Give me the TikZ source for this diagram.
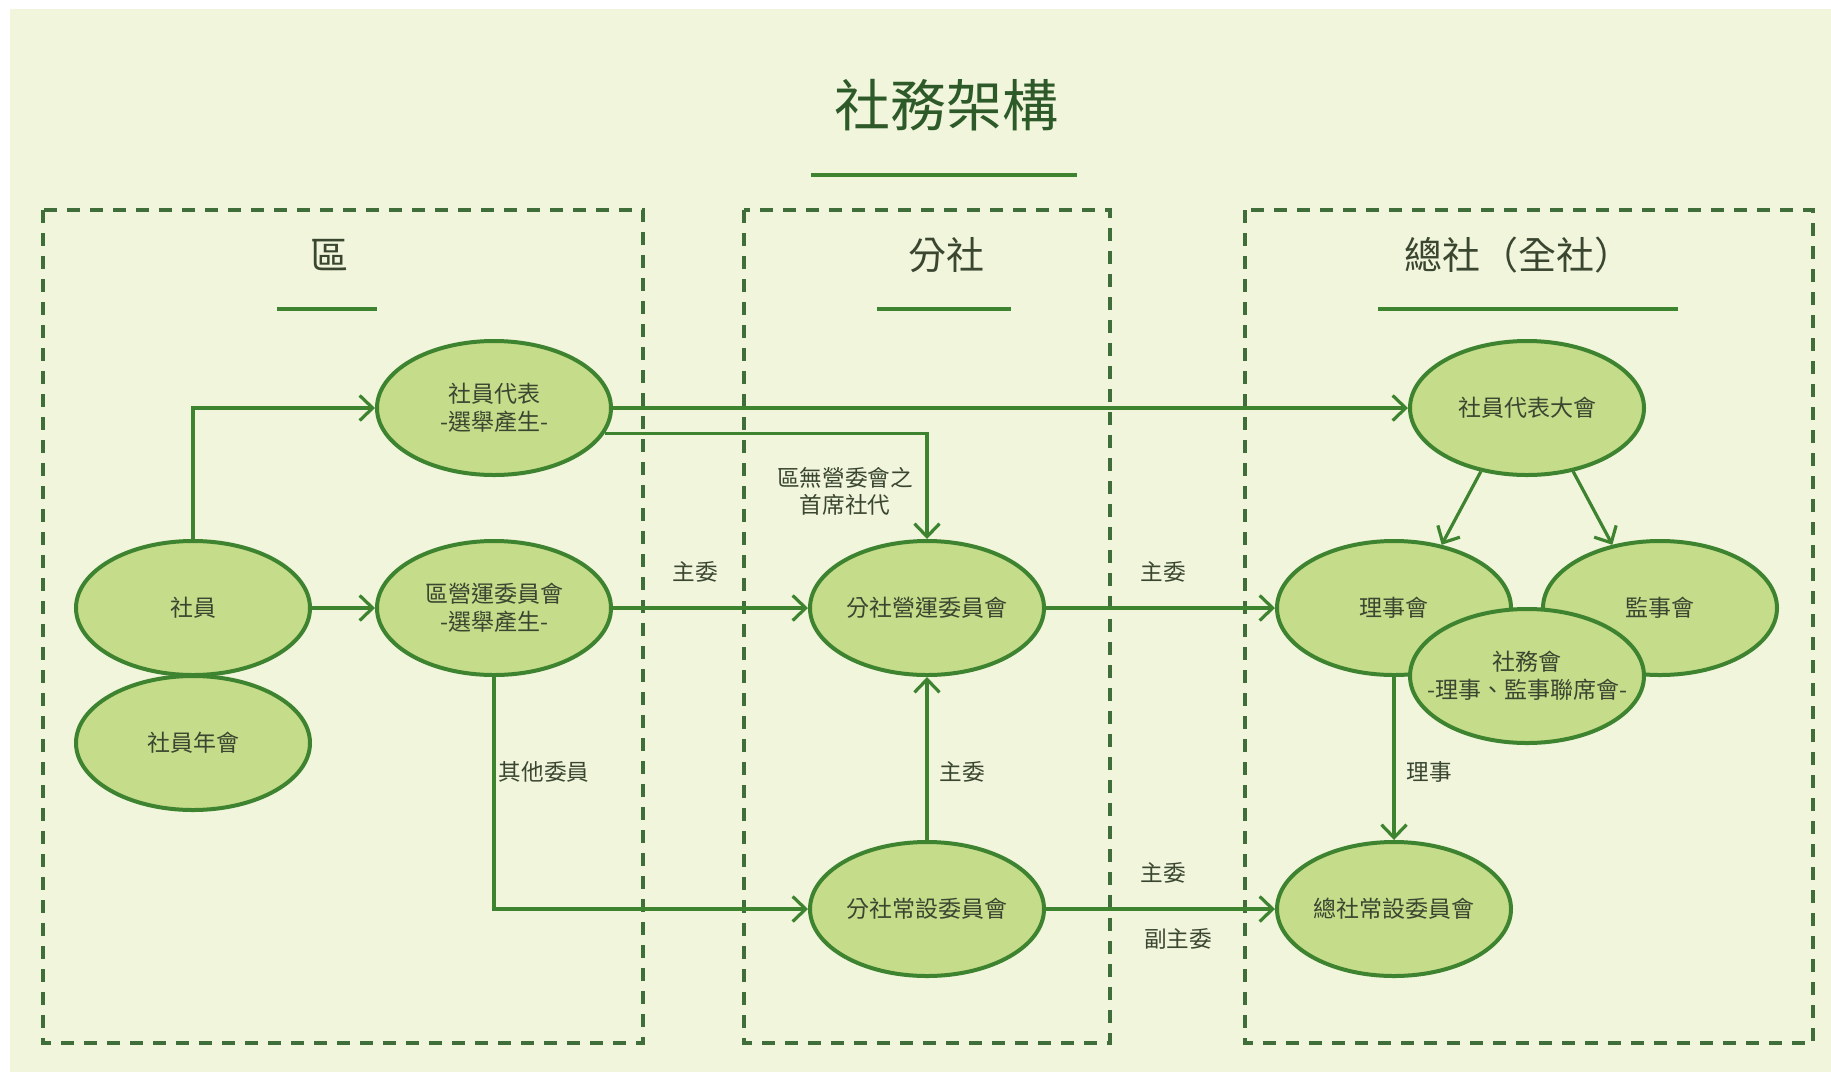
\documentclass[tikz,border=0pt]{standalone}
\usepackage{fontspec}
\newfontfamily\cjk{Noto Sans CJK TC}
\usetikzlibrary{arrows.meta,shapes.geometric}
\definecolor{bgc}{HTML}{F0F5DC}
\definecolor{fillc}{HTML}{C5DC8A}
\definecolor{edgec}{HTML}{3E832F}
\definecolor{boxc}{HTML}{3F6E3B}
\definecolor{txtc}{HTML}{3A4630}
\definecolor{titlec}{HTML}{2E5A2A}
\begin{document}
\begin{tikzpicture}[x=0.5pt,y=-0.5pt,
 org/.style={ellipse,draw=edgec,fill=fillc,line width=2pt,minimum width=117pt,minimum height=67pt,inner sep=0pt,font=\cjk\fontsize{11.5}{14}\selectfont,text=txtc,align=center},
 conn/.style={draw=edgec,line width=1.6pt,-{Straight Barb[length=6.5pt,width=12.5pt]}},
 lab/.style={font=\cjk\fontsize{11.3}{13.5}\selectfont,text=txtc,align=center,inner sep=0pt},
 region/.style={draw=boxc,line width=2pt,dash pattern=on 6.5pt off 5pt},
 head/.style={font=\cjk\fontsize{19}{22}\selectfont,text=txtc,inner sep=0pt},
 uline/.style={draw=edgec,line width=2pt}
]
\useasboundingbox (0,0) rectangle (1831,1072);
\fill[white] (0,0) rectangle (1831,1072);
\fill[bgc] (10,9) rectangle (1831,1072);

% title
\node[font=\cjk\fontsize{28}{32}\selectfont,text=titlec,inner sep=0pt] (title) at (946,105) {社務架構};
\draw[uline] (811,175) -- (1077,175);

% regions
\draw[region] (43,210) rectangle (643,1043);
\draw[region] (744,210) rectangle (1110,1043);
\draw[region] (1245,210) rectangle (1813,1043);

\node[head] (hq) at (329,255) {區};
\draw[uline] (277,309) -- (377,309);
\node[head] (hf) at (946,255) {分社};
\draw[uline] (877,309) -- (1011,309);
\node[head] (hz) at (1518,255) {總社（全社）};
\draw[uline] (1378,309) -- (1678,309);

% nodes
\node[org] (sdb) at (494,408) {社員代表\\-選舉產生-};
\node[org] (sy) at (193,608) {社員};
\node[org] (synh) at (193,743) {社員年會};
\node[org] (qy) at (494,608) {區營運委員會\\-選舉產生-};
\node[org] (fyy) at (927,608) {分社營運委員會};
\node[org] (fcs) at (927,909) {分社常設委員會};
\node[org] (dh) at (1527,408) {社員代表大會};
\node[org] (lsh) at (1394,608) {理事會};
\node[org] (jsh) at (1660,608) {監事會};
\node[org,inner xsep=-30pt] (swh) at (1527,676) {社務會\\-理事、監事聯席會-};
\node[org] (zcs) at (1394,909) {總社常設委員會};

% connectors
\draw[conn] (sy.north) |- (sdb.west);
\draw[conn] (sy.east) -- (qy.west);
\draw[conn] (sdb.east) -- (dh.west);
\draw[conn] (sdb.-13) -| (fyy.north);
\draw[conn] (qy.east) -- (fyy.west);
\draw[conn] (qy.south) |- (fcs.west);
\draw[conn] (fcs.north) -- (fyy.south);
\draw[conn] (fyy.east) -- (lsh.west);
\draw[conn] (fcs.east) -- (zcs.west);
\draw[conn] (dh.-126) -- (lsh.53);
\draw[conn] (dh.-54) -- (jsh.127);
\draw[conn] (lsh.south) -- (zcs.north);

% labels
\node[lab] (l1) at (845,491) {區無營委會之\\首席社代};
\node[lab] (l2) at (695,572) {主委};
\node[lab] (l3) at (544,772) {其他委員};
\node[lab] (l4) at (962,772) {主委};
\node[lab] (l5) at (1163,572) {主委};
\node[lab] (l6) at (1163,873) {主委};
\node[lab] (l7) at (1178,939) {副主委};
\node[lab] (l8) at (1429,772) {理事};
\end{tikzpicture}
\end{document}
